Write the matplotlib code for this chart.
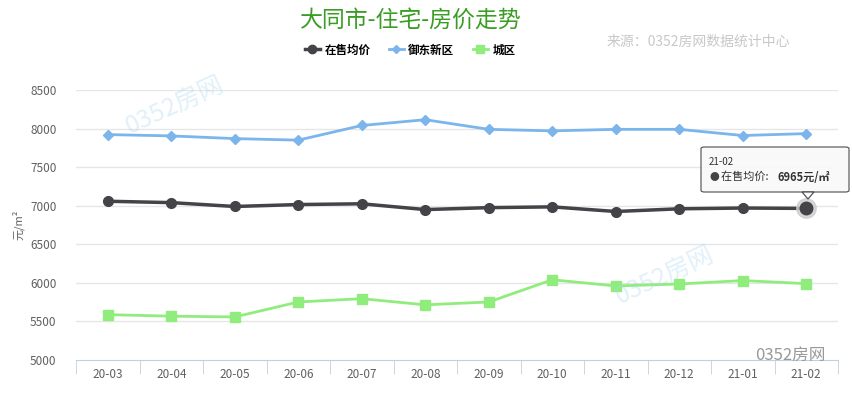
import matplotlib
matplotlib.use("Agg")
import matplotlib.pyplot as plt
from matplotlib.patches import FancyBboxPatch, Polygon
from matplotlib.lines import Line2D

plt.rcParams['font.family'] = ['Noto Sans CJK SC', 'DejaVu Sans']

months = ["20-03", "20-04", "20-05", "20-06", "20-07", "20-08",
          "20-09", "20-10", "20-11", "20-12", "21-01", "21-02"]
avg_price = [7058, 7040, 6990, 7015, 7025, 6950, 6975, 6985, 6925, 6960, 6970, 6965]
yudong = [7922, 7905, 7870, 7850, 8040, 8115, 7990, 7970, 7990, 7990, 7910, 7935]
chengqu = [5588, 5568, 5558, 5752, 5795, 5715, 5752, 6040, 5960, 5985, 6030, 5990]
yticks = [5000, 5500, 6000, 6500, 7000, 7500, 8000, 8500]

W, H = 852, 394
fig = plt.figure(figsize=(W / 100, H / 100), dpi=100)
ax = fig.add_axes([76 / W, 1 - 360 / H, (838 - 76) / W, (360 - 90) / H])

x = list(range(len(months)))
ax.set_xlim(-0.5, len(months) - 0.5)
ax.set_ylim(5000, 8500)

for v in yticks[1:]:
    ax.axhline(v, color="#e6e6e6", lw=1, zorder=0)

c_avg, c_yd, c_cq = "#434348", "#7cb5ec", "#90ed7d"
ax.plot(x, yudong, color=c_yd, lw=2, marker="D", ms=5, zorder=3)
ax.plot(x, avg_price, color=c_avg, lw=2.5, marker="o", ms=7, zorder=4)
ax.plot(x, chengqu, color=c_cq, lw=2, marker="s", ms=7, zorder=3)
# highlighted last point
ax.plot([x[-1]], [avg_price[-1]], marker="o", ms=14, color="#cccccc", alpha=0.8, zorder=5)
ax.plot([x[-1]], [avg_price[-1]], marker="o", ms=9, color=c_avg, zorder=6)

for s in ["top", "right", "left"]:
    ax.spines[s].set_visible(False)
ax.spines["bottom"].set_color("#c0d0e0")
ax.set_yticks(yticks)
ax.set_yticklabels([str(v) for v in yticks], color="#606060", fontsize=8.5)
ax.tick_params(axis="y", length=0, pad=14)
ax.set_xticks(x)
ax.set_xticklabels(months, color="#606060", fontsize=8.5)
ax.tick_params(axis="x", length=0, pad=6)
ax.set_xticks([i - 0.5 for i in range(len(months) + 1)], minor=True)
ax.tick_params(axis="x", which="minor", length=10, color="#c0d0e0")

fig.text(18 / W, 1 - 225 / H, "元/m²", rotation=90, ha="center", va="center",
         color="#606060", fontsize=8)

fig.text(411 / W, 1 - 20 / H, "大同市-住宅-房价走势", ha="center", va="center",
         color="#3a9d23", fontsize=16.5)
fig.text(698 / W, 1 - 42 / H, "来源：0352房网数据统计中心", ha="center", va="center",
         color="#c8c8c8", fontsize=10)

# legend
handles = [
    Line2D([], [], color=c_avg, lw=2.5, marker="o", ms=6),
    Line2D([], [], color=c_yd, lw=2, marker="D", ms=4),
    Line2D([], [], color=c_cq, lw=2, marker="s", ms=6),
]
fig.legend(handles, ["在售均价", "御东新区", "城区"], loc="center",
           bbox_to_anchor=(410 / W, 1 - 50 / H), ncol=3, frameon=False,
           handlelength=1.3, columnspacing=1.6, handletextpad=0.4,
           prop={"weight": "bold", "size": 8.3})

# tooltip
bx0, by0, bx1, by1 = 701, 147, 849, 192
box = FancyBboxPatch((bx0 / W, 1 - by1 / H), (bx1 - bx0) / W, (by1 - by0) / H,
                     boxstyle="round,pad=0,rounding_size=0.004",
                     transform=fig.transFigure, facecolor="#f9f9f9",
                     edgecolor="#434348", lw=0.8, alpha=0.95, zorder=10)
fig.patches.append(box)
tri = Polygon([[(802) / W, 1 - 192 / H], [(814) / W, 1 - 192 / H], [(808) / W, 1 - 199 / H]],
              closed=True, transform=fig.transFigure, facecolor="#f9f9f9",
              edgecolor="#434348", lw=0.8, zorder=10)
fig.patches.append(tri)
fig.text(709 / W, 1 - 162 / H, months[-1], fontsize=7, color="#333333", va="center", zorder=11)
fig.text(710 / W, 1 - 177 / H, "●", fontsize=7, color=c_avg, va="center", zorder=11)
fig.text(721 / W, 1 - 177 / H, "在售均价: ", fontsize=8, color="#333333", va="center", zorder=11)
fig.text(777 / W, 1 - 177 / H, f"{avg_price[-1]}元/㎡", fontsize=8, color="#333333",
         va="center", weight="bold", zorder=11)

# watermarks
fig.text(175 / W, 1 - 105 / H, "0352房网", rotation=25, ha="center", va="center",
         fontsize=18, color="#a8d4f0", alpha=0.35, style="italic")
fig.text(665 / W, 1 - 275 / H, "0352房网", rotation=25, ha="center", va="center",
         fontsize=18, color="#a8d4f0", alpha=0.35, style="italic")
fig.text(790 / W, 1 - 355 / H, "0352房网", ha="center", va="center",
         fontsize=12, color="#999999")

fig.savefig("out.png", dpi=100)
